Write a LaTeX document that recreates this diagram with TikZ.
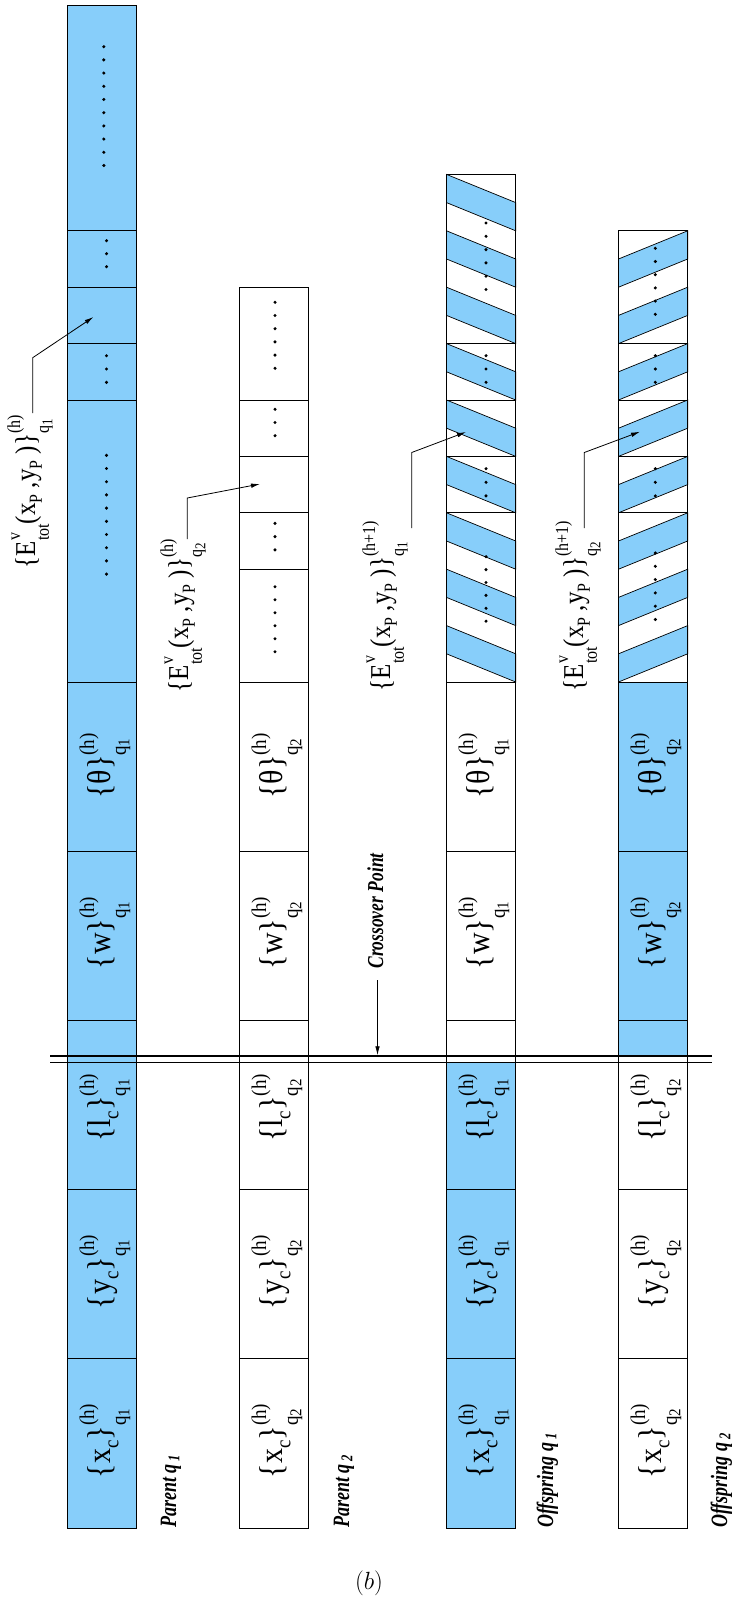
\documentclass[tikz,border=0pt]{standalone}
\usepackage{fontspec}
\setmainfont{Liberation Serif}
\usetikzlibrary{arrows.meta}
\definecolor{skyb}{RGB}{135,206,250}
\newcommand{\lbr}{\{}
\newcommand{\rbr}{\}}
\newcommand{\fmain}{\fontsize{25}{28}\selectfont}
\newcommand{\fscr}{\fontsize{16}{18}\selectfont}
\newcommand{\fss}{\fontsize{13}{15}\selectfont}
\newcommand{\supr}{13pt}
\newcommand{\subr}{12pt}
\newcommand{\lowr}{6pt}
\newcommand{\Sub}[1]{\raisebox{-\lowr}{\fscr #1}}
\newcommand{\qi}[1]{q\raisebox{-3pt}{\fss #1}}
\newcommand{\SupSub}[2]{\setbox0=\hbox{\fscr #1}\setbox2=\hbox{\fscr #2}%
\ifdim\wd0>\wd2 \dimen0=\wd0 \else\dimen0=\wd2 \fi
\hbox to \dimen0{\rlap{\raisebox{\supr}{\box0}}\raisebox{-\subr}{\box2}\hss}}
\newcommand{\vs}[2]{\scalebox{1}[#1]{#2}}
\newcommand{\bigfonts}{\renewcommand\fscr{\fontsize{19}{21}\selectfont}%
\renewcommand\fss{\fontsize{15}{17}\selectfont}%
\renewcommand\supr{15pt}\renewcommand\subr{14pt}\renewcommand\lowr{7pt}%
\fontsize{30}{34}\selectfont}
\begin{document}
\begin{tikzpicture}[x=1pt,y=-1pt,
  bx/.style={draw=black,line width=0.9pt},
  stripe/.style={fill=skyb,draw=black,line width=0.7pt},
  lbl/.style={rotate=90,font=\fmain,inner sep=0pt},
  blbl/.style={rotate=90,font=\bigfonts,inner sep=0pt},
  cname/.style={rotate=90,font=\fontsize{18}{20}\selectfont\bfseries\itshape,inner sep=0pt,anchor=base west},
  arr/.style={line width=0.8pt,-{Latex[length=9pt,width=4.5pt]}},
  dline/.style={line width=1.3pt}]
\useasboundingbox (0,0) rectangle (733,1608);
% fills
\fill[skyb] (67.3,5.2) rectangle (136.5,1528);
\fill[skyb] (446.5,1062.5) rectangle (515.7,1528);
\fill[skyb] (618.5,682) rectangle (687.7,1056);
% stripes
\foreach \k in {0,...,8}{
  \pgfmathsetmacro{\ya}{174.4+56.4*\k}
  \draw[stripe] (446.5,\ya) -- (515.7,\ya+28.2) -- (515.7,\ya+56.4) -- (446.5,\ya+28.2) -- cycle;
}
\foreach \k in {0,...,7}{
  \pgfmathsetmacro{\ya}{230.8+56.4*\k}
  \draw[stripe] (618.5,\ya+28.2) -- (687.7,\ya) -- (687.7,\ya+28.2) -- (618.5,\ya+56.4) -- cycle;
}
% box outlines
\draw[bx] (67.3,5.2) rectangle (136.5,1528);
\foreach \yy in {230.8,287.2,343.6,400,682,851.2,1020.4,1189.6,1358.8} \draw[bx] (67.3,\yy) -- (136.5,\yy);
\draw[bx] (239.4,287.2) rectangle (308.6,1528);
\foreach \yy in {400,456.4,512.8,569.2,682,851.2,1020.4,1189.6,1358.8} \draw[bx] (239.4,\yy) -- (308.6,\yy);
\draw[bx] (446.5,174.4) rectangle (515.7,1528);
\foreach \yy in {343.6,400,456.4,512.8,682,851.2,1020.4,1189.6,1358.8} \draw[bx] (446.5,\yy) -- (515.7,\yy);
\draw[bx] (618.5,230.8) rectangle (687.7,1528);
\foreach \yy in {343.6,400,456.4,512.8,682,851.2,1020.4,1189.6,1358.8} \draw[bx] (618.5,\yy) -- (687.7,\yy);
% dots
\foreach \k in {0,...,9} \fill (103.8,46.7+13.2*\k) circle (1.7);
\foreach \k in {0,...,2} \fill (106.5,240.7+13*\k) circle (1.7);
\foreach \k in {0,...,2} \fill (106.5,355.7+13.3*\k) circle (1.7);
\foreach \k in {0,...,9} \fill (106.5,455.3+13.2*\k) circle (1.7);
\foreach \k in {0,...,5} \fill (275,302.3+13.2*\k) circle (1.7);
\foreach \k in {0,...,2} \fill (275,409.3+13.2*\k) circle (1.7);
\foreach \k in {0,...,2} \fill (275,523.3+13.3*\k) circle (1.7);
\foreach \k in {0,...,5} \fill (275,586.7+13*\k) circle (1.7);
\foreach \k in {0,...,5} \fill (486,223+13.3*\k) circle (1.7);
\foreach \k in {0,...,2} \fill (486,355.7+13.3*\k) circle (1.7);
\foreach \k in {0,...,2} \fill (486,468.7+13.6*\k) circle (1.7);
\foreach \k in {0,...,5} \fill (486,556.7+12.9*\k) circle (1.7);
\foreach \k in {0,...,5} \fill (655.3,248.3+13.2*\k) circle (1.7);
\foreach \k in {0,...,2} \fill (655.3,355.7+13.3*\k) circle (1.7);
\foreach \k in {0,...,2} \fill (655.3,468.7+13.6*\k) circle (1.7);
\foreach \k in {0,...,5} \fill (655.3,553+13.3*\k) circle (1.7);
% box labels
\foreach \cx/\q/\c in {105/1/a,277/2/b,484/1/c,656/2/d}{
  \node[blbl] (x\c) at (\cx,1441) {\vs{1.1}{\lbr x\Sub{c}\rbr\SupSub{(h)}{\qi{\q}}}};
  \node[blbl] (y\c) at (\cx,1272) {\vs{1.1}{\lbr y\Sub{c}\rbr\SupSub{(h)}{\qi{\q}}}};
  \node[blbl] (l\c) at (\cx,1108) {\vs{1.1}{\lbr l\Sub{c}\rbr\SupSub{(h)}{\qi{\q}}}};
  \node[blbl] (w\c) at (\cx,933) {\vs{1.1}{\lbr w\rbr\SupSub{(h)}{\qi{\q}}}};
  \node[blbl] (t\c) at (\cx,766) {\vs{1.1}{\lbr θ\rbr\SupSub{(h)}{\qi{\q}}}};
}
% E labels
\node[lbl,anchor=base east] (e1) at (35,415) {\vs{1.15}{\lbr E\SupSub{v}{tot}(x\Sub{P} ,y\Sub{P} )\rbr\SupSub{(h)}{\qi{1}}}};
\node[lbl,anchor=base east] (e2) at (188,539) {\vs{1.15}{\lbr E\SupSub{v}{tot}(x\Sub{P} ,y\Sub{P} )\rbr\SupSub{(h)}{\qi{2}}}};
\node[lbl,anchor=base east] (e3) at (390,521) {\vs{1.15}{\lbr E\SupSub{v}{tot}(x\Sub{P} ,y\Sub{P} )\rbr\SupSub{(h+1)}{\qi{1}}}};
\node[lbl,anchor=base east] (e4) at (583,521) {\vs{1.15}{\lbr E\SupSub{v}{tot}(x\Sub{P} ,y\Sub{P} )\rbr\SupSub{(h+1)}{\qi{2}}}};
% arrows
\coordinate (a1) at (32.7,413); \coordinate (b1) at (32.7,357.7); \coordinate (g1) at (93.5,317);
\coordinate (a2) at (187.3,539); \coordinate (b2) at (187.3,498); \coordinate (g2) at (260,484);
\coordinate (a3) at (411.7,528); \coordinate (b3) at (411.7,452.5); \coordinate (g3) at (466,432);
\coordinate (a4) at (584.3,528); \coordinate (b4) at (584.3,452.5); \coordinate (g4) at (640,431.7);
\draw[arr] (a1) -- (b1) -- (g1);
\draw[arr] (a2) -- (b2) -- (g2);
\draw[arr] (a3) -- (b3) -- (g3);
\draw[arr] (a4) -- (b4) -- (g4);
% crossover
\coordinate (d1) at (50,1056); \coordinate (d2) at (712,1056);
\coordinate (d3) at (50,1062.5); \coordinate (d4) at (712,1062.5);
\draw[dline] (d1) -- (d2);
\draw[dline] (d3) -- (d4);
\node[rotate=90,font=\fontsize{17.5}{20}\selectfont\bfseries\itshape,inner sep=0pt,anchor=base] (cp) at (383,911) {\vs{1.3}{Crossover Point}};
\coordinate (ca) at (377.5,980); \coordinate (cb) at (377.5,1055.3);
\draw[arr] (ca) -- (cb);
% names
\node[cname] (p1) at (176,1528) {\vs{1.3}{Parent q\,\textsubscript{1}}};
\node[cname] (p2) at (349,1528) {\vs{1.3}{Parent q\,\textsubscript{2}}};
\node[cname] (o1) at (553,1528) {\vs{1.3}{Offspring q\,\textsubscript{1}}};
\node[cname] (o2) at (727,1528) {\vs{1.3}{Offspring q\,\textsubscript{2}}};
\node (cap) at (369,1583) {\fontsize{34}{38}\selectfont$(b)$};
\end{tikzpicture}
\end{document}
